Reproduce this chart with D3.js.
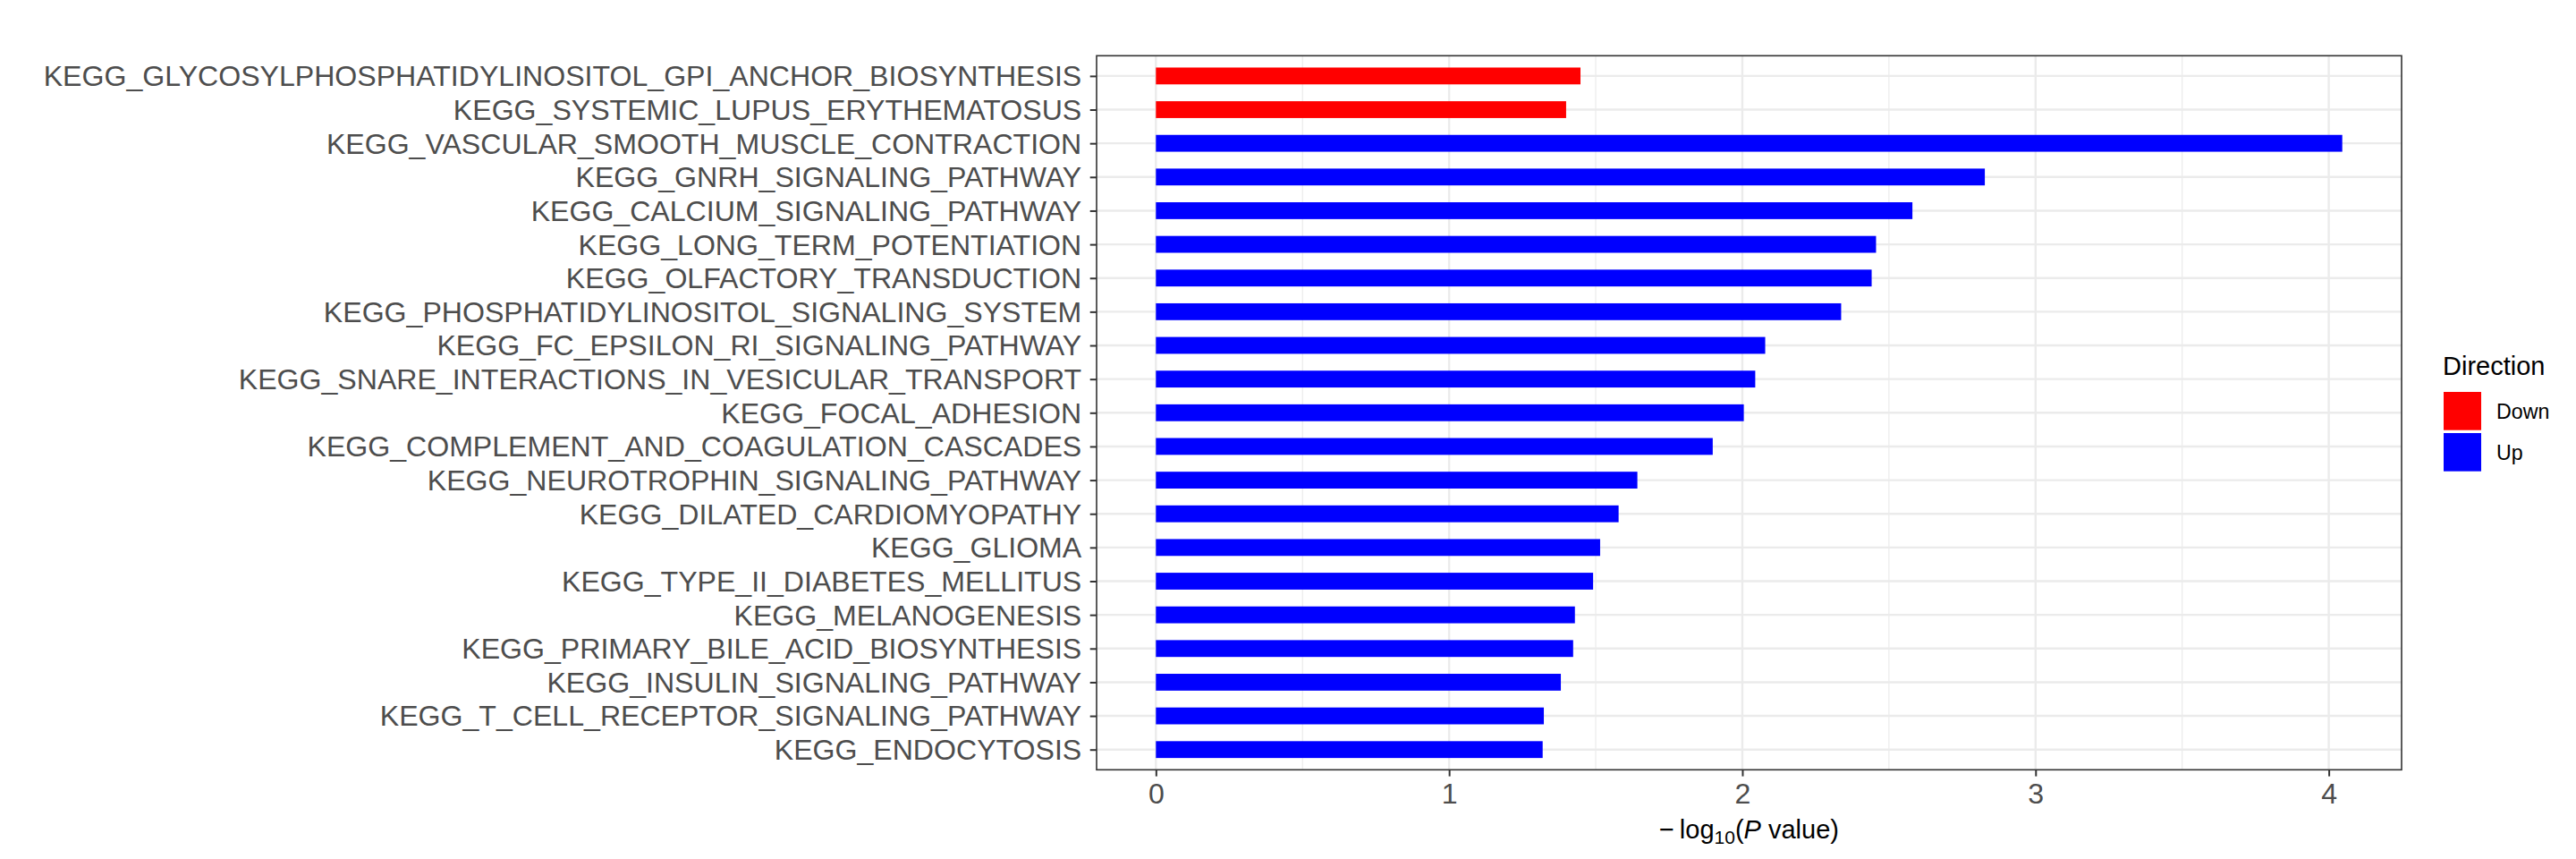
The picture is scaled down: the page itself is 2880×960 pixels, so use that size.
<!DOCTYPE html>
<html>
<head>
<meta charset="utf-8">
<script src="https://cdn.jsdelivr.net/npm/d3@7/dist/d3.min.js"></script>
<style>
  html, body { margin: 0; padding: 0; background: #ffffff; }
  svg { display: block; }
  text { font-family: "Liberation Sans", Arial, Helvetica, sans-serif; }
</style>
</head>
<body>
<div id="chart"></div>
<script>
const categories = [
  "KEGG_GLYCOSYLPHOSPHATIDYLINOSITOL_GPI_ANCHOR_BIOSYNTHESIS",
  "KEGG_SYSTEMIC_LUPUS_ERYTHEMATOSUS",
  "KEGG_VASCULAR_SMOOTH_MUSCLE_CONTRACTION",
  "KEGG_GNRH_SIGNALING_PATHWAY",
  "KEGG_CALCIUM_SIGNALING_PATHWAY",
  "KEGG_LONG_TERM_POTENTIATION",
  "KEGG_OLFACTORY_TRANSDUCTION",
  "KEGG_PHOSPHATIDYLINOSITOL_SIGNALING_SYSTEM",
  "KEGG_FC_EPSILON_RI_SIGNALING_PATHWAY",
  "KEGG_SNARE_INTERACTIONS_IN_VESICULAR_TRANSPORT",
  "KEGG_FOCAL_ADHESION",
  "KEGG_COMPLEMENT_AND_COAGULATION_CASCADES",
  "KEGG_NEUROTROPHIN_SIGNALING_PATHWAY",
  "KEGG_DILATED_CARDIOMYOPATHY",
  "KEGG_GLIOMA",
  "KEGG_TYPE_II_DIABETES_MELLITUS",
  "KEGG_MELANOGENESIS",
  "KEGG_PRIMARY_BILE_ACID_BIOSYNTHESIS",
  "KEGG_INSULIN_SIGNALING_PATHWAY",
  "KEGG_T_CELL_RECEPTOR_SIGNALING_PATHWAY",
  "KEGG_ENDOCYTOSIS"
];
const values = [
  1.448, 1.399, 4.046, 2.827, 2.580, 2.456, 2.441, 2.337, 2.078, 2.044, 2.005,
  1.899, 1.642, 1.578, 1.515, 1.491, 1.429, 1.423, 1.381, 1.323, 1.319
];
const directions = [
  "Down", "Down", "Up", "Up", "Up", "Up", "Up", "Up", "Up", "Up", "Up",
  "Up", "Up", "Up", "Up", "Up", "Up", "Up", "Up", "Up", "Up"
];
const xTicks = [0, 1, 2, 3, 4];
const xMinorTicks = [0.5, 1.5, 2.5, 3.5];
const legendLevels = ["Down", "Up"];
const legendColors = ["#FF0000", "#0000FF"];

const W = 2880, H = 960;
const panel = { left: 1226, right: 2685, top: 62.3, bottom: 860.3 };

const svg = d3.select("#chart").append("svg")
  .attr("width", W).attr("height", H)
  .attr("viewBox", `0 0 ${W} ${H}`);
svg.append("rect").attr("width", W).attr("height", H).attr("fill", "#ffffff");

const maxV = d3.max(values);
const pad = maxV * 0.05;
const x = d3.scaleLinear().domain([-pad, maxV + pad]).range([panel.left, panel.right]);
const y = d3.scalePoint().domain(categories).range([panel.top, panel.bottom]).padding(0.6);
const color = d3.scaleOrdinal().domain(legendLevels).range(legendColors);
const barH = y.step() * 0.5;

// grid
const g = svg.append("g");
g.selectAll("line.minor").data(xMinorTicks).join("line")
  .attr("x1", d => x(d)).attr("x2", d => x(d))
  .attr("y1", panel.top).attr("y2", panel.bottom)
  .attr("stroke", "#EBEBEB").attr("stroke-width", 1.2);
g.selectAll("line.majx").data(xTicks).join("line")
  .attr("x1", d => x(d)).attr("x2", d => x(d))
  .attr("y1", panel.top).attr("y2", panel.bottom)
  .attr("stroke", "#EBEBEB").attr("stroke-width", 2.4);
g.selectAll("line.majy").data(categories).join("line")
  .attr("x1", panel.left).attr("x2", panel.right)
  .attr("y1", d => y(d)).attr("y2", d => y(d))
  .attr("stroke", "#EBEBEB").attr("stroke-width", 2.4);

// bars
svg.append("g").selectAll("rect").data(categories).join("rect")
  .attr("x", x(0))
  .attr("y", d => y(d) - barH / 2)
  .attr("width", (d, i) => x(values[i]) - x(0))
  .attr("height", barH)
  .attr("fill", (d, i) => color(directions[i]));

// panel border
svg.append("rect")
  .attr("x", panel.left).attr("y", panel.top)
  .attr("width", panel.right - panel.left).attr("height", panel.bottom - panel.top)
  .attr("fill", "none").attr("stroke", "#333333").attr("stroke-width", 1.6);

// axes
const xAxis = svg.append("g")
  .attr("transform", `translate(0,${panel.bottom})`)
  .call(d3.axisBottom(x).tickValues(xTicks).tickFormat(d3.format("d")).tickSize(7.3).tickPadding(7.2));
const yAxis = svg.append("g")
  .attr("transform", `translate(${panel.left},0)`)
  .call(d3.axisLeft(y).tickSize(7.3).tickPadding(9.5));
[xAxis, yAxis].forEach(a => {
  a.select(".domain").remove();
  a.selectAll(".tick line").attr("stroke", "#333333").attr("stroke-width", 2);
  a.selectAll(".tick text").attr("fill", "#4D4D4D")
    .style("font-size", "32.1px")
    .style("font-family", "'Liberation Sans', Arial, Helvetica, sans-serif");
});
yAxis.selectAll(".tick text").attr("dy", "0.34em");

// x axis title
const xt = svg.append("text")
  .attr("x", (panel.left + panel.right) / 2)
  .attr("y", 936.5)
  .attr("text-anchor", "middle")
  .attr("fill", "#000000")
  .style("font-size", "29px");
xt.append("tspan").text("\u2212\u2009log");
xt.append("tspan").attr("dy", 6).style("font-size", "21px").text("10");
xt.append("tspan").attr("dy", -6).text("(");
xt.append("tspan").style("font-style", "italic").text("P");
xt.append("tspan").text(" value)");

// legend
const lg = svg.append("g");
lg.append("text").attr("x", 2731).attr("y", 419)
  .attr("fill", "#000000").style("font-size", "29px").text("Direction");
const keyStep = 46;
lg.selectAll("rect.key").data(legendLevels).join("rect")
  .attr("x", 2732)
  .attr("y", (d, i) => 438 + i * keyStep)
  .attr("width", 42).attr("height", 42.7)
  .attr("fill", d => color(d));
lg.selectAll("text.lab").data(legendLevels).join("text")
  .attr("x", 2791)
  .attr("y", (d, i) => 438 + i * keyStep + 21.35 + 8.3)
  .attr("fill", "#000000").style("font-size", "23.2px")
  .text(d => d);
</script>
</body>
</html>
